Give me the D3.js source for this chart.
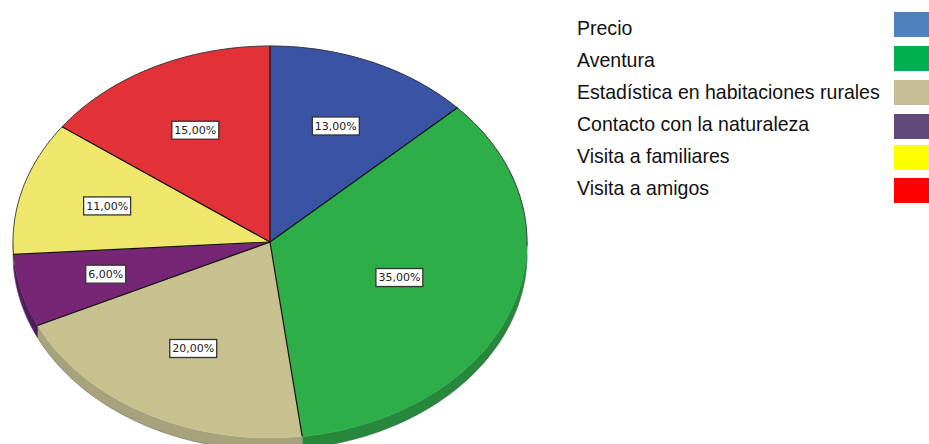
<!DOCTYPE html>
<html>
<head>
<meta charset="utf-8">
<script src="https://d3js.org/d3.v7.min.js"></script>
<style>
html, body { margin:0; padding:0; background:#fff; overflow:hidden; }
svg { display:block; }
</style>
</head>
<body>
<script>
// chart data
var categories = ["Precio","Aventura","Estadística en habitaciones rurales","Contacto con la naturaleza","Visita a familiares","Visita a amigos"];
var percents = [13,35,20,6,11,15];

var topColors = ["#3b53a4","#2dae49","#c7c08f","#762675","#efe76c","#e33138"];
var wallColors = ["#2c3e7b","#27873a","#a5a27c","#4f1d5c","#b3ad51","#aa252a"];
var legendColors = ["#4f81bd","#00b050","#c4bd97","#604a7b","#ffff00","#ff0000"];

// how far out each label sits, as a share of the radius
var labelRadius = [0.645,0.535,0.62,0.66,0.66,0.64];
var swatchTops = [12,46,80,114,145,178];

var width = 929, height = 444;
var cx = 270, cy = 242, rx = 257, ry = 196, depth = 12;

var svg = d3.select("body").append("svg")
	.attr("width", width)
	.attr("height", height);

var slices = d3.pie().sort(null).value(function(d){ return d; })(percents);

function px(a){ return cx + rx*Math.sin(a); }
function py(a){ return cy - ry*Math.cos(a); }

function angleSteps(a0, a1){
	var n = Math.ceil((a1-a0)/0.02);
	return d3.range(n+1).map(function(k){ return a0 + (a1-a0)*k/n; });
}

// side wall, only the front half of the tilted pie shows it
var wallArea = d3.area()
	.x(px)
	.y0(py)
	.y1(function(a){ return py(a) + depth; });

svg.append("g").selectAll("path")
	.data(slices)
	.enter().append("path")
	.attr("fill", function(d,i){ return wallColors[i]; })
	.attr("stroke", function(d,i){ return wallColors[i]; })
	.attr("stroke-width", 0.5)
	.attr("d", function(d){
		var a0 = Math.max(d.startAngle, Math.PI/2);
		var a1 = Math.min(d.endAngle, Math.PI*1.5);
		if (a1 <= a0) return null;
		return wallArea(angleSteps(a0, a1));
	});

// thin shade along the lower rim of the wall
var rimLine = d3.line().x(px).y(function(a){ return py(a) + depth; });
svg.append("path")
	.attr("d", rimLine(angleSteps(Math.PI/2, Math.PI*1.5)))
	.attr("fill", "none")
	.attr("stroke", "#555")
	.attr("stroke-opacity", 0.6)
	.attr("stroke-width", 0.6);

// top face: a circular pie squashed into an ellipse
var arc = d3.arc().innerRadius(0).outerRadius(rx);

svg.append("g")
	.attr("transform", "translate("+cx+","+cy+") scale(1,"+(ry/rx)+")")
	.selectAll("path")
	.data(slices)
	.enter().append("path")
	.attr("d", arc)
	.attr("fill", function(d,i){ return topColors[i]; })
	.attr("stroke", function(d,i){ return topColors[i]; })
	.attr("stroke-width", 0.5)
	.style("vector-effect", "non-scaling-stroke");

// back rim of the top face
var backRim = d3.line().x(px).y(py);
svg.append("path")
	.attr("d", backRim(angleSteps(-Math.PI/2 - 0.1, Math.PI/2 + 0.02)))
	.attr("fill", "none")
	.attr("stroke", "#333")
	.attr("stroke-width", 0.9);

// black spokes between slices
var spoke = d3.line();
svg.append("g").selectAll("path")
	.data(slices)
	.enter().append("path")
	.attr("d", function(d){ return spoke([[cx,cy],[px(d.startAngle),py(d.startAngle)]]); })
	.attr("fill", "none")
	.attr("stroke", "#111")
	.attr("stroke-width", 1.2);

// percent labels
var labels = svg.append("g").selectAll("g")
	.data(slices)
	.enter().append("g")
	.attr("transform", function(d,i){
		var r = rx*labelRadius[i];
		var c = d3.arc().innerRadius(r).outerRadius(r).centroid(d);
		return "translate("+(cx+c[0])+","+(cy+c[1]*ry/rx)+")";
	});

labels.append("text")
	.attr("text-anchor", "middle")
	.attr("dy", "0.36em")
	.attr("font-family", "'DejaVu Sans', sans-serif")
	.attr("font-size", 11)
	.attr("fill", "#222")
	.text(function(d){ return d3.format(".2f")(d.value).replace(".", ",") + "%"; });

labels.insert("rect", "text")
	.each(function(){
		var b = this.parentNode.querySelector("text").getBBox();
		d3.select(this)
			.attr("x", b.x-2.5).attr("y", -9)
			.attr("width", b.width+5).attr("height", 18);
	})
	.attr("fill", "#fff")
	.attr("stroke", "#333")
	.attr("stroke-width", 1.3);

// legend, the type is a bit condensed in the original
var legendY = d3.scalePoint().domain(categories).range([27,187]);

svg.append("g").selectAll("text")
	.data(categories)
	.enter().append("text")
	.attr("transform", function(d){ return "translate(577,"+legendY(d)+") scale(0.93,1)"; })
	.attr("dy", "0.36em")
	.attr("font-family", "'Liberation Sans', Arial, sans-serif")
	.attr("font-size", 21)
	.attr("fill", "#111")
	.text(function(d){ return d; });

svg.append("g").selectAll("rect")
	.data(categories)
	.enter().append("rect")
	.attr("x", 894)
	.attr("y", function(d,i){ return swatchTops[i]; })
	.attr("width", 35)
	.attr("height", 25)
	.attr("fill", function(d,i){ return legendColors[i]; });
</script>
</body>
</html>
